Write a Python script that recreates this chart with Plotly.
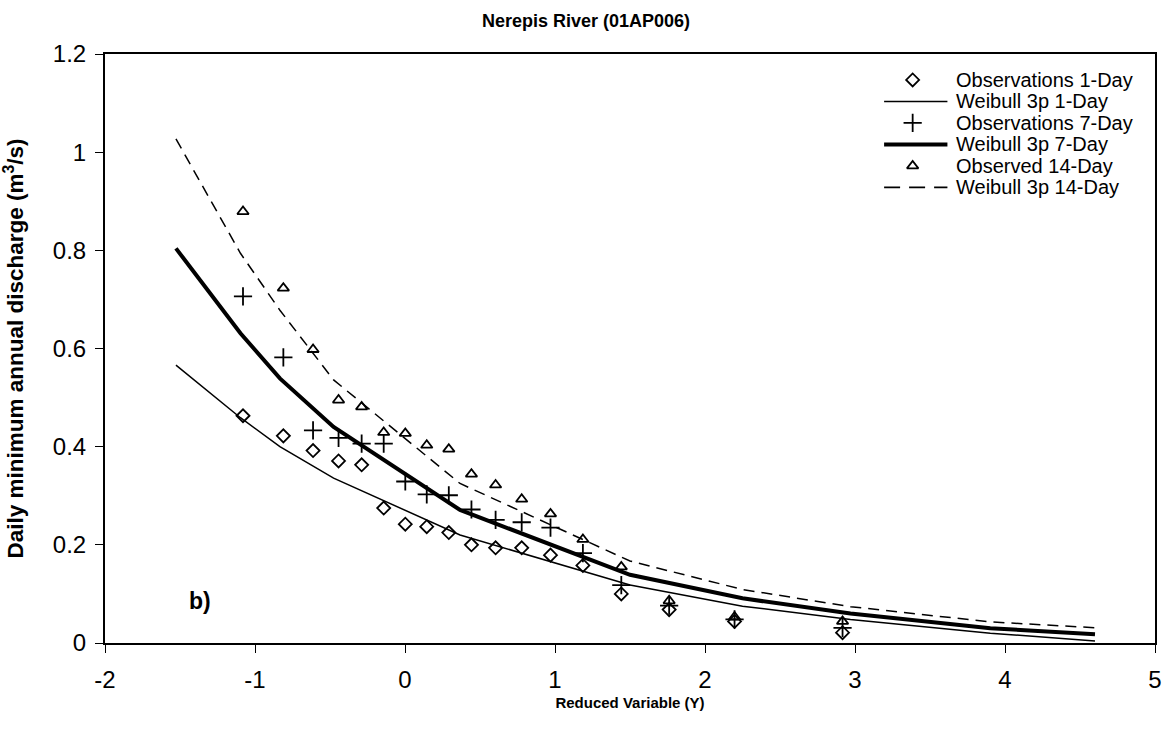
import plotly.graph_objects as go

# Reduced variable (Gumbel) of the observations
y_obs = [-1.080, -0.811, -0.613, -0.443, -0.289, -0.142, 0.002, 0.145, 0.292,
         0.443, 0.604, 0.778, 0.970, 1.186, 1.442, 1.761, 2.197, 2.917]
obs_1day = [0.463, 0.422, 0.392, 0.371, 0.363, 0.275, 0.242, 0.237, 0.225,
            0.200, 0.194, 0.194, 0.179, 0.158, 0.100, 0.068, 0.044, 0.021]
obs_7day = [0.706, 0.582, 0.433, 0.418, 0.406, 0.406, 0.329, 0.303, 0.301,
            0.272, 0.251, 0.246, 0.235, 0.183, 0.118, 0.076, 0.048, 0.031]
obs_14day = [0.879, 0.723, 0.598, 0.495, 0.481, 0.429, 0.427, 0.403, 0.395,
             0.344, 0.322, 0.293, 0.263, 0.211, 0.155, 0.086, 0.053, 0.044]

# Weibull 3p fitted curves
y_fit = [-1.527, -1.097, -0.834, -0.476, 0.367, 1.500, 2.250, 2.970, 3.902, 4.600]
fit_1day = [0.566, 0.459, 0.400, 0.336, 0.220, 0.118, 0.075, 0.048, 0.020, 0.004]
fit_7day = [0.804, 0.631, 0.539, 0.440, 0.271, 0.139, 0.091, 0.060, 0.030, 0.018]
fit_14day = [1.027, 0.794, 0.678, 0.536, 0.325, 0.167, 0.109, 0.074, 0.043, 0.031]

x_ticks = [-2, -1, 0, 1, 2, 3, 4, 5]
x_tick_text = ["-2", "-1", "0", "1", "2", "3", "4", "5"]
y_ticks = [0, 0.2, 0.4, 0.6, 0.8, 1.0, 1.2]
y_tick_text = ["0", "0.2", "0.4", "0.6", "0.8", "1", "1.2"]

legend_names = ["Observations 1-Day", "Weibull 3p 1-Day", "Observations 7-Day",
                "Weibull 3p 7-Day", "Observed 14-Day", "Weibull 3p 14-Day"]

FONT = "Liberation Sans, Arial, sans-serif"

diamond = dict(symbol="diamond-open", size=10, color="black", line=dict(width=1.8, color="black"))
cross = dict(symbol="cross-thin-open", size=13, color="black", line=dict(width=1.8, color="black"))
triangle = dict(symbol="triangle-up-open", size=10, color="black", line=dict(width=1.8, color="black"))
thin = dict(color="black", width=1.5)
thick = dict(color="black", width=4)
dashed = dict(color="black", width=1.5, dash="11px,7px")

fig = go.Figure()
fig.add_trace(go.Scatter(x=y_obs, y=obs_1day, mode="markers", marker=diamond, showlegend=False))
fig.add_trace(go.Scatter(x=y_fit, y=fit_1day, mode="lines", line=thin, showlegend=False))
fig.add_trace(go.Scatter(x=y_obs, y=obs_7day, mode="markers", marker=cross, showlegend=False))
fig.add_trace(go.Scatter(x=y_fit, y=fit_7day, mode="lines", line=thick, showlegend=False))
fig.add_trace(go.Scatter(x=y_obs, y=obs_14day, mode="markers", marker=triangle, showlegend=False))
fig.add_trace(go.Scatter(x=y_fit, y=fit_14day, mode="lines", line=dashed, showlegend=False))

# Custom legend (overlay axes in plot-fraction coordinates)
row_y = [0.956, 0.9195, 0.883, 0.8465, 0.810, 0.7735]
lx0, lx1, lxm, ltx = 0.742, 0.8023, 0.7692, 0.8095
styles = [("m", diamond), ("l", thin), ("m", cross), ("l", thick), ("m", triangle),
          ("l", dict(color="black", width=1.8, dash="16px,9px"))]
for (kind, st), ry, name in zip(styles, row_y, legend_names):
    if kind == "m":
        fig.add_trace(go.Scatter(x=[lxm], y=[ry], mode="markers", marker=st,
                                 xaxis="x2", yaxis="y2", showlegend=False, hoverinfo="skip"))
    else:
        fig.add_trace(go.Scatter(x=[lx0, lx1], y=[ry, ry], mode="lines", line=st,
                                 xaxis="x2", yaxis="y2", showlegend=False, hoverinfo="skip"))
    fig.add_annotation(x=ltx, y=ry, xref="x2", yref="y2", text=name, showarrow=False,
                       xanchor="left", yanchor="middle", borderpad=0,
                       font=dict(size=20, color="black", family=FONT))

fig.add_annotation(x=-1.37, y=0.086, text="<b>b)</b>", showarrow=False,
                   font=dict(size=23, color="black", family=FONT))

fig.update_layout(
    width=1172, height=738,
    margin=dict(l=105, r=10, t=54, b=95),
    paper_bgcolor="white", plot_bgcolor="white",
    font=dict(family=FONT, color="black"),
    title=dict(text="<b>Nerepis River (01AP006)</b>", x=0.5, xanchor="center",
               y=1 - 21 / 738, yanchor="middle", font=dict(size=18, family=FONT)),
    showlegend=False,
    xaxis=dict(range=[-2, 5], tickvals=x_ticks, ticktext=x_tick_text, ticks="outside", ticklen=8,
               tickwidth=1, tickcolor="black", showgrid=False, zeroline=False,
               showline=True, linecolor="black", linewidth=2, mirror=True,
               tickfont=dict(size=24, family=FONT), ticklabelstandoff=6,
               title=dict(text="<b>Reduced Variable (Y)</b>", font=dict(size=15, family=FONT),
                          standoff=6)),
    yaxis=dict(range=[0, 1.2], tickvals=y_ticks, ticktext=y_tick_text, ticks="outside",
               ticklen=8, tickwidth=1, tickcolor="black", showgrid=False, zeroline=False,
               showline=True, linecolor="black", linewidth=2, mirror=True,
               tickfont=dict(size=24, family=FONT), ticklabelstandoff=4,
               title=dict(text="<b>Daily minimum annual discharge (m<sup>3</sup>/s)</b>",
                          font=dict(size=22.5, family=FONT), standoff=24)),
    xaxis2=dict(range=[0, 1], overlaying="x", visible=False, fixedrange=True),
    yaxis2=dict(range=[0, 1], overlaying="y", visible=False, fixedrange=True),
)

fig.write_html("out.html")
